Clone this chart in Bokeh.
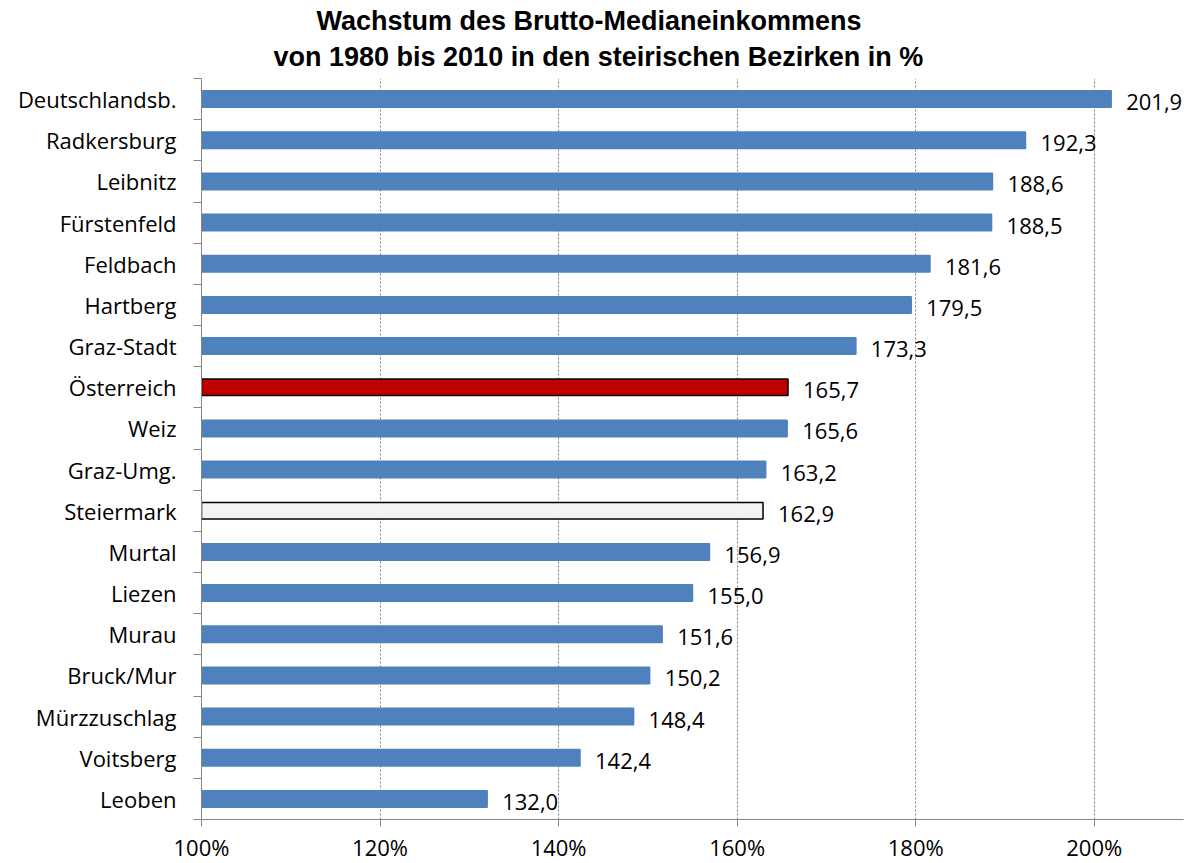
from bokeh.plotting import figure
from bokeh.models import ColumnDataSource, FixedTicker, Range1d, Title, LabelSet
from bokeh.core.properties import value
from bokeh.embed import file_html
from bokeh.resources import INLINE

districts = ["Deutschlandsb.", "Radkersburg", "Leibnitz", "Fürstenfeld", "Feldbach",
             "Hartberg", "Graz-Stadt", "Österreich", "Weiz", "Graz-Umg.", "Steiermark",
             "Murtal", "Liezen", "Murau", "Bruck/Mur", "Mürzzuschlag", "Voitsberg", "Leoben"]
growth = [201.9, 192.3, 188.6, 188.5, 181.6, 179.5, 173.3, 165.7, 165.6, 163.2, 162.9,
          156.9, 155.0, 151.6, 150.2, 148.4, 142.4, 132.0]
x_ticks = [100, 120, 140, 160, 180, 200]

BLUE = "#4F81BD"
fills = []
lines = []
for d in districts:
    if d == "Österreich":
        fills.append("#C00000"); lines.append("black")
    elif d == "Steiermark":
        fills.append("#F2F2F2"); lines.append("black")
    else:
        fills.append(BLUE); lines.append(BLUE)

n = len(districts)
ypos = [n - 1 - i for i in range(n)]
labels = [f"{v:.1f}".replace(".", ",") for v in growth]
src = ColumnDataSource(dict(y=ypos, right=growth, fill=fills, line=lines, lab=labels))

FONT = "Open Sans"
FS = "22px"

p = figure(output_backend="svg", toolbar_location=None,
           frame_width=982, frame_height=741,
           min_border_left=201, min_border_right=9, min_border_top=78, min_border_bottom=44,
           x_range=Range1d(100, 210), y_range=Range1d(-0.5, n - 0.5),
           background_fill_color="white", border_fill_color="white")
p.outline_line_color = None

p.hbar(y="y", left=100, right="right", height=0.4, fill_color="fill",
       line_color="line", line_width=1.5, source=src)

ls = LabelSet(x="right", y="y", text="lab", source=src, x_offset=15, y_offset=-3,
              text_font=value(FONT), text_font_size=FS, text_baseline="middle",
              text_align="left", text_color="black")
p.add_layout(ls)

# x axis
p.xaxis.ticker = FixedTicker(ticks=x_ticks)
p.xaxis.major_label_overrides = {t: f"{t}%" for t in x_ticks}
p.xaxis.axis_line_color = "#868686"
p.xaxis.major_tick_line_color = "#868686"
p.xaxis.major_tick_out = 7
p.xaxis.major_tick_in = 0
p.xaxis.minor_tick_line_color = None
p.xaxis.major_label_text_font = FONT
p.xaxis.major_label_text_font_size = FS
p.xaxis.major_label_text_color = "black"
p.xaxis.major_label_standoff = 5

# y axis
p.yaxis.ticker = FixedTicker(ticks=list(range(n)),
                             minor_ticks=[i - 0.5 for i in range(n + 1)])
p.yaxis.major_label_overrides = {ypos[i]: districts[i] for i in range(n)}
p.yaxis.axis_line_color = "#868686"
p.yaxis.major_tick_line_color = None
p.yaxis.major_tick_out = 0
p.yaxis.major_tick_in = 0
p.yaxis.minor_tick_line_color = "#868686"
p.yaxis.minor_tick_out = 8
p.yaxis.minor_tick_in = 0
p.yaxis.major_label_text_font = FONT
p.yaxis.major_label_text_font_size = FS
p.yaxis.major_label_text_color = "black"
p.yaxis.major_label_standoff = 17

p.ygrid.grid_line_color = None
p.xgrid.ticker = FixedTicker(ticks=x_ticks[1:])
p.xgrid.grid_line_color = "#7F7F7F"
p.xgrid.grid_line_dash = "2 2"
p.xgrid.grid_line_width = 1

t2 = Title(text="von 1980 bis 2010 in den steirischen Bezirken in %", align="left",
           text_font="Arial", text_font_size="27px", text_font_style="bold",
           text_color="black", offset=72, standoff=13)
t1 = Title(text="Wachstum des Brutto-Medianeinkommens", align="left",
           text_font="Arial", text_font_size="27px", text_font_style="bold",
           text_color="black", offset=115, standoff=-5)
p.add_layout(t2, "above")
p.add_layout(t1, "above")

open("out.html", "w").write(file_html(p, INLINE))
